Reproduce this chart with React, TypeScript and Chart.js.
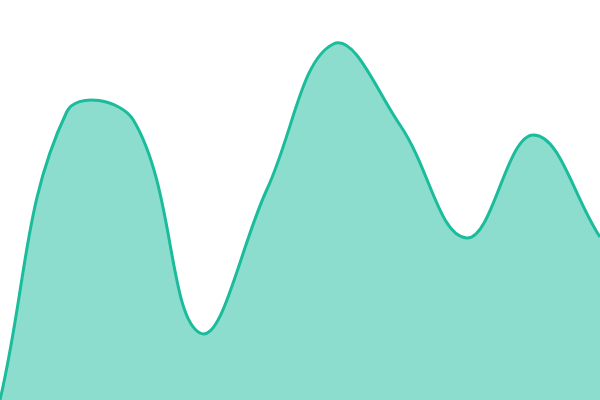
import Chart from "chart.js/auto";
import React, { useEffect, useRef } from "react";

const labels: string[] = ["1", "2", "3", "4", "5", "6", "7", "8", "9", "10"];
const values: number[] = [0, 288, 280, 67, 210, 356, 275, 162, 265, 163];

const App: React.FC = () => {
    const chartRef = useRef<HTMLCanvasElement | null>(null);

    useEffect(() => {
        document.body.style.margin = "0";
        if (!chartRef.current) return;
        const chart = new Chart(chartRef.current, {
            type: "line",
            data: {
                labels: labels,
                datasets: [
                    {
                        data: values,
                        borderColor: "#1abc9c",
                        backgroundColor: "rgba(26, 188, 156, 0.5)",
                        borderWidth: 3,
                        fill: true,
                        tension: 0.4,
                        pointRadius: 0,
                    },
                ],
            },
            options: {
                animation: false,
                responsive: false,
                layout: { padding: 0 },
                plugins: { legend: { display: false }, tooltip: { enabled: false } },
                scales: {
                    x: { display: false, offset: false },
                    y: { display: false, min: 0, max: 400 },
                },
            },
        });

        return () => {
            chart.destroy();
        };
    }, []);

    return (
        <div style={{ width: 600, height: 400 }}>
            <canvas ref={chartRef} width={600} height={400}></canvas>
        </div>
    );
};

export default App;
